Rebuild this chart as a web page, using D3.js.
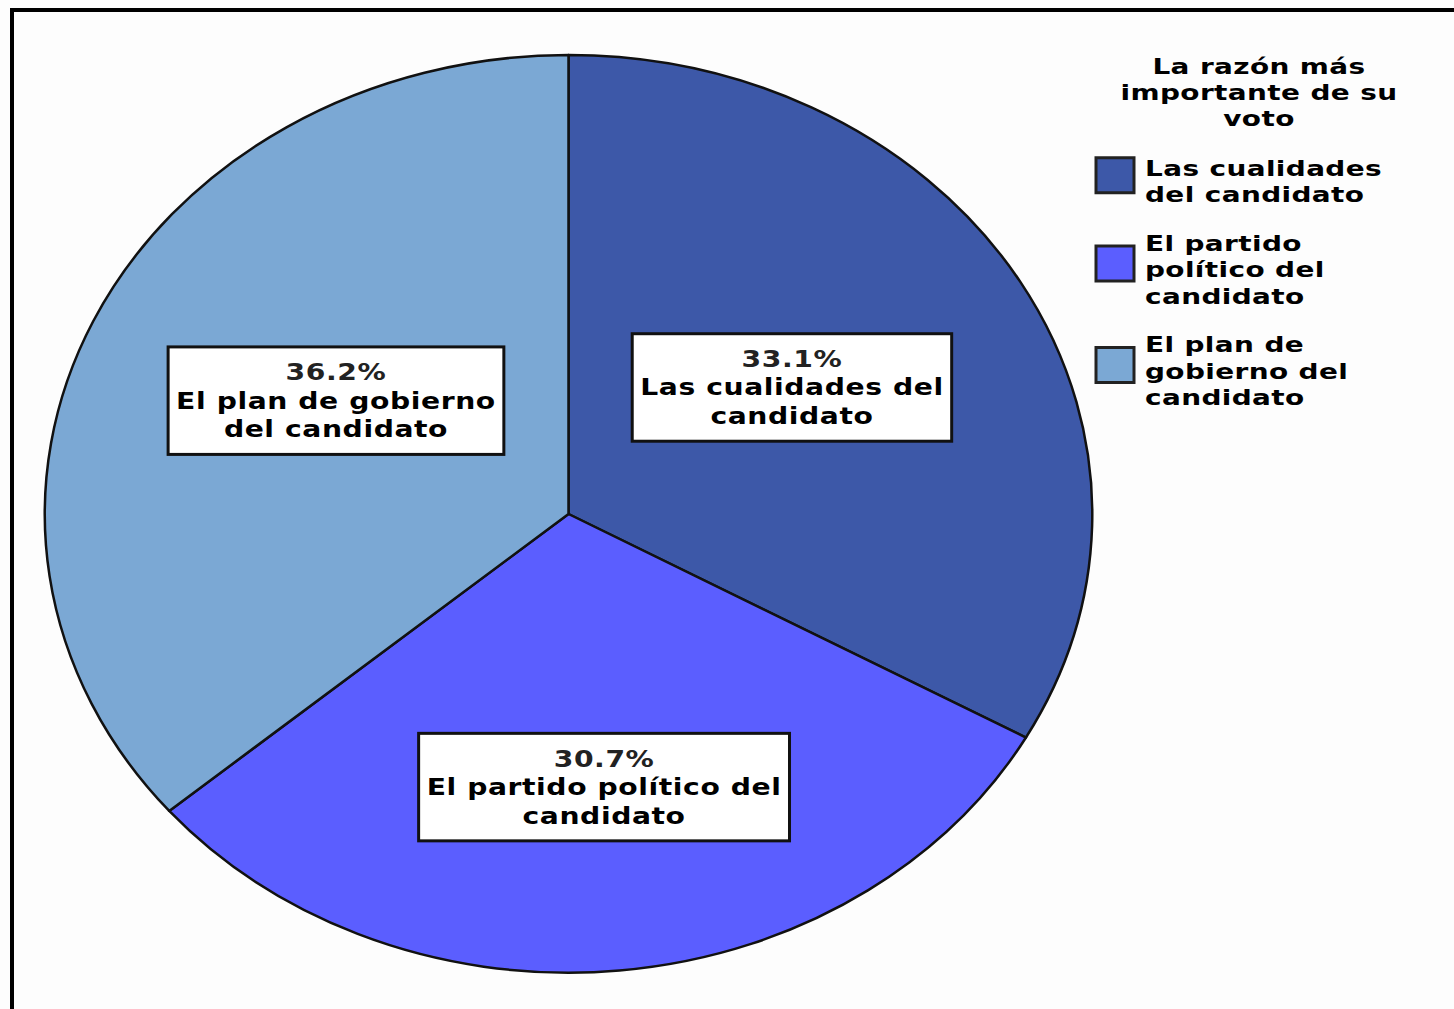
<!DOCTYPE html>
<html>
<head>
<meta charset="utf-8">
<script src="https://cdn.jsdelivr.net/npm/d3@7"></script>
<style>
  html, body { margin: 0; padding: 0; background: #fdfdfd; }
  svg { display: block; }
  text { font-family: "DejaVu Sans", Verdana, sans-serif; font-weight: bold; }
</style>
</head>
<body>
<svg id="chart" width="1454" height="1009"></svg>
<script>
// ---- data ----
const categories = ["Las cualidades del candidato", "El partido político del candidato", "El plan de gobierno del candidato"];
const values = [33.1, 30.7, 36.2];
const percentLabels = ["33.1%", "30.7%", "36.2%"];
const sliceLabelLines = [
  ["Las cualidades del", "candidato"],
  ["El partido político del", "candidato"],
  ["El plan de gobierno", "del candidato"]
];
const legendTitleLines = ["La razón más", "importante de su", "voto"];
const legendLines = [
  ["Las cualidades", "del candidato"],
  ["El partido", "político del", "candidato"],
  ["El plan de", "gobierno del", "candidato"]
];

// ---- style / layout ----
const colors = ["#3d58a8", "#5b5eff", "#7ba8d4"];
const W = 1454, H = 1009;
const cx = 568.5, cy = 514, rx = 524, ry = 459;
const labelRadius = [0.51, 0.6, 0.51];
const labelNudge = [[-7, -8], [5, -1], [10, -15]];
const labelScaleX = 1.2, legendScaleX = 1.27;

const svg = d3.select("#chart");
svg.append("rect").attr("width", W).attr("height", H).attr("fill", "#fdfdfd");

// frame (top and left edges visible)
svg.append("path")
  .attr("d", `M12,${H} V10 H${W}`)
  .attr("fill", "none").attr("stroke", "#000").attr("stroke-width", 4);

const pie = d3.pie().sort(null).value(d => d);
const arcs = pie(values);
const arc = d3.arc().innerRadius(0).outerRadius(1);
const color = d3.scaleOrdinal().domain(categories).range(colors);

const gPie = svg.append("g").attr("transform", `translate(${cx},${cy}) scale(${rx},${ry})`);
gPie.selectAll("path").data(arcs).enter().append("path")
  .attr("d", arc)
  .attr("fill", (d, i) => color(categories[i]))
  .attr("stroke", "#111")
  .attr("stroke-width", 2.5)
  .attr("vector-effect", "non-scaling-stroke")
  .attr("stroke-linejoin", "round");

function stretch(x, s) { return `translate(${x},0) scale(${s},1) translate(${-x},0)`; }

// slice labels
const lh = 28.5;
arcs.forEach((a, i) => {
  const mid = (a.startAngle + a.endAngle) / 2;
  const r = labelRadius[i];
  const x = cx + rx * r * Math.sin(mid) + labelNudge[i][0];
  const y = cy - ry * r * Math.cos(mid) + labelNudge[i][1];
  const lines = [percentLabels[i]].concat(sliceLabelLines[i]);
  const g = svg.append("g");
  const rect = g.append("rect");
  const t = g.append("text")
    .attr("text-anchor", "middle")
    .attr("font-size", 23.5)
    .attr("letter-spacing", 0.5)
    .attr("fill", "#000")
    .attr("transform", stretch(x, labelScaleX));
  const firstBase = y - (lines.length - 1) * lh / 2 + 8;
  lines.forEach((s, k) => {
    t.append("tspan").attr("x", x).attr("y", firstBase + k * lh)
      .attr("fill", k === 0 ? "#222" : "#000").text(s);
  });
  const bb = t.node().getBBox();
  const bw = bb.width * labelScaleX + 16, bh = lines.length * lh + 22;
  rect.attr("x", x - bw / 2).attr("y", y - bh / 2)
    .attr("width", bw).attr("height", bh)
    .attr("fill", "#fff").attr("stroke", "#111").attr("stroke-width", 3);
});

// legend
const lg = svg.append("g");
const legTitle = lg.append("text").attr("text-anchor", "middle")
  .attr("font-size", 22).attr("letter-spacing", 0.3).attr("fill", "#000")
  .attr("transform", stretch(1259, legendScaleX));
legendTitleLines.forEach((s, k) => {
  legTitle.append("tspan").attr("x", 1259).attr("y", 74 + k * 26).text(s);
});

const legLh = 26.5, capH = 19;
let itemTop = 157;
legendLines.forEach((lines, i) => {
  const blockMid = itemTop + ((lines.length - 1) * legLh + capH) / 2 - 4;
  lg.append("rect")
    .attr("x", 1096).attr("y", blockMid - 18)
    .attr("width", 38).attr("height", 35)
    .attr("fill", color(categories[i]))
    .attr("stroke", "#222").attr("stroke-width", 3);
  const t = lg.append("text").attr("font-size", 22).attr("letter-spacing", 0.3).attr("fill", "#000")
    .attr("transform", stretch(1145, legendScaleX));
  lines.forEach((s, k) => {
    t.append("tspan").attr("x", 1145).attr("y", itemTop + capH + k * legLh).text(s);
  });
  itemTop += lines.length * legLh + 22;
});
</script>
</body>
</html>
